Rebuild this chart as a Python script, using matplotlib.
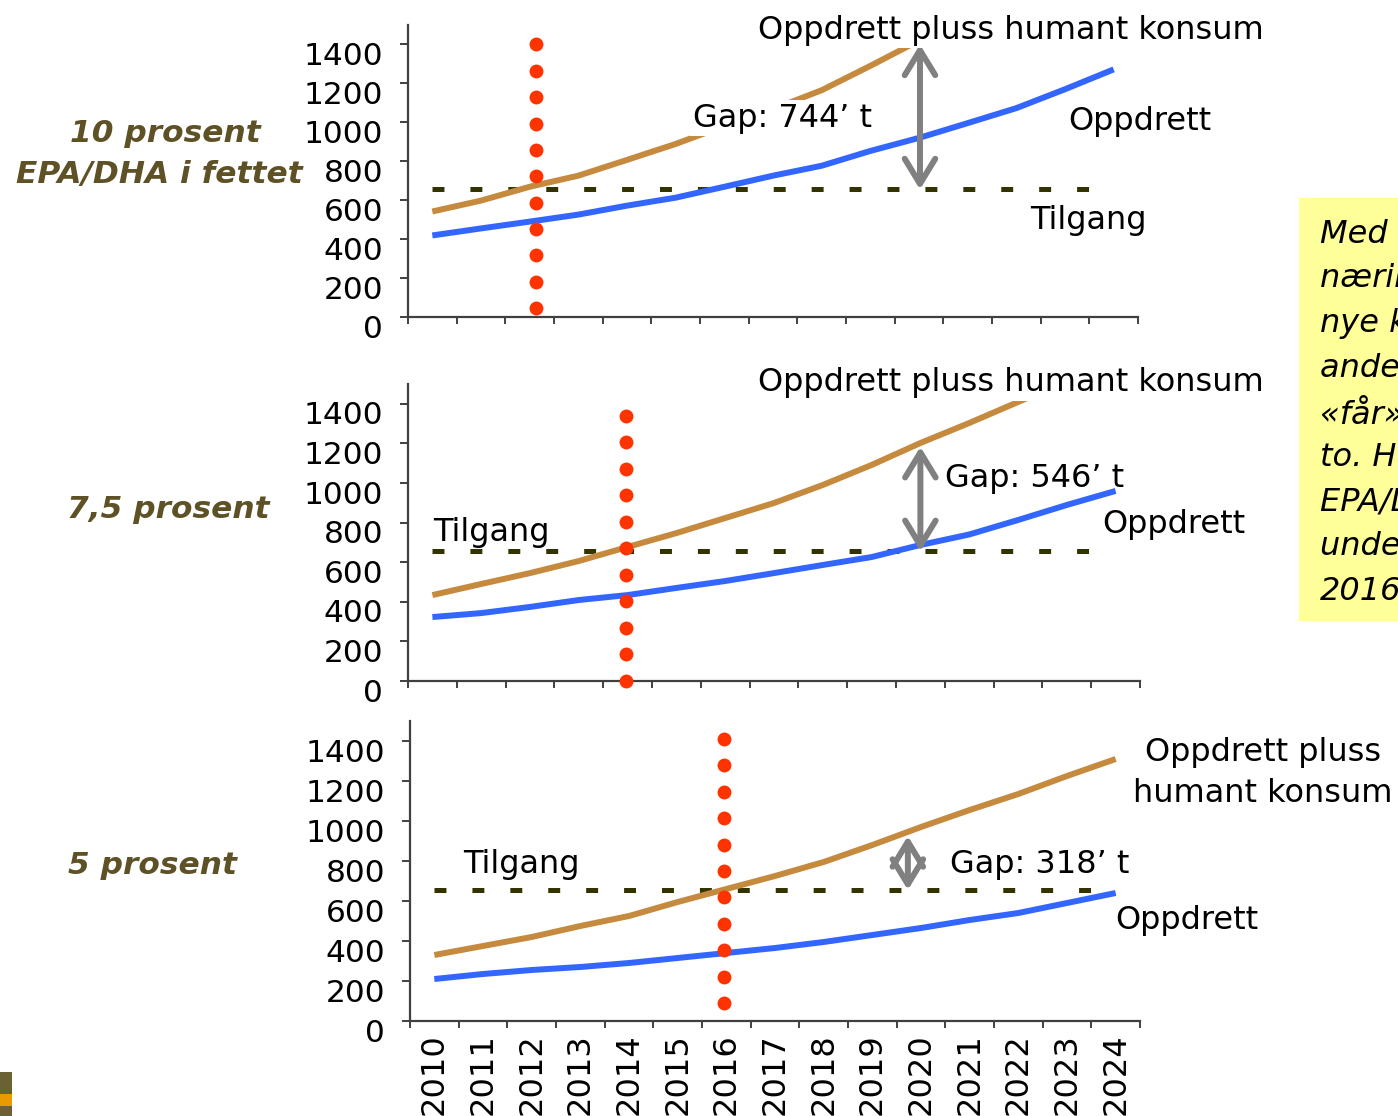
import numpy as np
import matplotlib
matplotlib.use("Agg")
import matplotlib.pyplot as plt
from matplotlib.patches import Rectangle
from matplotlib.transforms import ScaledTranslation

plt.rcParams['font.family'] = ['DejaVu Sans']
plt.rcParams['lines.scale_dashes'] = False

# ---- data (thousand tonnes) ----
years = list(range(2010, 2025))

oppdrett_10 = [419, 455, 490, 526, 572, 613, 669, 726, 777, 853, 920, 996, 1073, 1170, 1272]
pluss_10 = [542, 598, 669, 726, 807, 889, 981, 1068, 1165, 1290, 1420, 1545]

oppdrett_75 = [323, 343, 374, 409, 434, 470, 505, 545, 586, 626, 687, 740, 813, 889, 960]
pluss_75 = [434, 490, 545, 606, 677, 747, 823, 899, 990, 1091, 1202, 1303, 1409, 1515]

oppdrett_5 = [210, 235, 255, 270, 290, 315, 340, 365, 395, 430, 465, 505, 540, 590, 640]
pluss_5 = [330, 375, 420, 475, 525, 595, 660, 725, 795, 880, 970, 1055, 1135, 1225, 1310]

tilgang = [655, 655, 655]
gaps = ["744", "546", "318"]
gap_year = [2020.02, 2020.0, 2019.73]
gap_top = [1400, 1183, 925]

deficit_year = [2012.13, 2013.96, 2015.95]
deficit_lo = [45, 0, 90]
deficit_hi = [1400, 1340, 1410]

yticks = [0, 200, 400, 600, 800, 1000, 1200, 1400]

BLUE = '#3366FF'
ORANGE = '#C68A3E'
RED = '#FF3300'
OLIVE = '#5E5126'
DASH = '#333300'
GREY = '#808080'
AXC = '#404040'

W, H = 1398, 1116
fig = plt.figure(figsize=(W / 100, H / 100), dpi=100)


def fx(x):
    return x / W


def fy(y):
    return 1 - y / H


panels = [
    (408, 25, 1138, 317, oppdrett_10, pluss_10),
    (408, 384, 1140, 681, oppdrett_75, pluss_75),
    (410, 721, 1140, 1021, oppdrett_5, pluss_5),
]

axes = []
for i, (x0, y0, x1, y1, blue, orange) in enumerate(panels):
    ax = fig.add_axes([fx(x0), fy(y1), (x1 - x0) / W, (y1 - y0) / H])
    ax.plot(years[:len(blue)], blue, color=BLUE, lw=4.3, solid_capstyle='butt', zorder=3)
    ax.plot(years[:len(orange)], orange, color=ORANGE, lw=4.3, solid_capstyle='butt', zorder=3)
    ax.plot([years[0], years[-1] - 0.5], [tilgang[i], tilgang[i]], color=DASH, lw=3.6,
            dashes=(8.6, 18.7), zorder=2)
    ax.plot([deficit_year[i]] * 11, np.linspace(deficit_lo[i], deficit_hi[i], 11), 'o',
            color=RED, ms=10, mec='none', clip_on=False, zorder=4)
    ax.annotate('', xy=(gap_year[i], gap_top[i]), xytext=(gap_year[i], tilgang[i]),
                arrowprops=dict(arrowstyle='<->,head_length=0.9,head_width=0.55',
                                color=GREY, lw=4.3, shrinkA=0, shrinkB=0,
                                mutation_scale=20, capstyle='round', joinstyle='round'),
                zorder=5)

    ax.set_xlim(2009.5, 2024.5)
    ax.set_ylim(0, 1500)
    ax.set_yticks(yticks)
    ax.set_yticklabels([str(v) for v in yticks])
    ax.set_xticks(np.arange(2009.5, 2025, 1))
    ax.set_xticklabels([])
    for s in ['top', 'right']:
        ax.spines[s].set_visible(False)
    for s in ['left', 'bottom']:
        ax.spines[s].set_color(AXC)
        ax.spines[s].set_linewidth(1.6)
    ax.tick_params(axis='y', length=6, width=1.4, color=AXC, pad=12, labelsize=22.5)
    ax.tick_params(axis='x', length=5, width=1.4, color=AXC)
    off = ScaledTranslation(0, -0.09, fig.dpi_scale_trans)
    for lab in ax.get_yticklabels():
        lab.set_transform(lab.get_transform() + off)
    axes.append(ax)

# year labels only on the bottom panel
ax = axes[2]
ax.set_xticks(years, minor=True)
ax.set_xticklabels([str(y) for y in years], minor=True, rotation=90, fontsize=23,
                   va='top', ha='center')
ax.tick_params(axis='x', which='minor', length=0, pad=9)

# ---- panel annotations ----
TS = 23
wb = dict(fc='white', ec='none', pad=2)


def t(x, y, s, ha='left', **kw):
    fig.text(fx(x), fy(y + 3), s, ha=ha, va='center', fontsize=TS, zorder=10, **kw)


t(758, 27, 'Oppdrett pluss humant konsum', bbox=wb)
t(693, 115, 'Gap: 744\u2019 t', bbox=wb)
t(1068, 118, 'Oppdrett')
t(1030, 217, 'Tilgang')

t(758, 380, 'Oppdrett pluss humant konsum', bbox=wb)
t(945, 475, 'Gap: 546\u2019 t')
t(1102, 521, 'Oppdrett')
t(433, 530, 'Tilgang')

t(1263, 750, 'Oppdrett pluss', ha='center')
t(1263, 791, 'humant konsum', ha='center')
t(950, 862, 'Gap: 318\u2019 t')
t(1115, 918, 'Oppdrett')
t(463, 862, 'Tilgang')

# ---- left scenario labels ----
lk = dict(fontsize=22.5, fontweight='bold', style='italic', color=OLIVE, va='center', ha='center')
fig.text(fx(165), fy(133), '10 prosent', **lk)
fig.text(fx(159), fy(175), 'EPA/DHA i fettet', **lk)
fig.text(fx(168), fy(509), '7,5 prosent', **lk)
fig.text(fx(152), fy(866), '5 prosent', **lk)

# ---- yellow note box (cut off at the right edge, as in the original) ----
fig.patches.append(Rectangle((fx(1299), fy(621)), (W - 1299) / W, (621 - 198) / H,
                             transform=fig.transFigure, fc='#FFFF99', ec='none', zorder=1))
note = ['Med dagens vekst i', 'næringen og ingen', 'nye kilder vil', 'andelen laks som',
        '«får» omega-3 halveres', 'to. Hvis laksen skal ha', 'EPA/DHA i fettet, blir det',
        'underskudd allerede i', '2016']
for k, line in enumerate(note):
    fig.text(fx(1320), fy(234 + k * 44.7), line, fontsize=TS, style='italic',
             va='center', ha='left', zorder=10)

# ---- logo fragment bottom-left ----
fig.patches.append(Rectangle((0, 0), fx(12), (1116 - 1072) / H, transform=fig.transFigure,
                             fc='#6B6233', ec='none'))
fig.patches.append(Rectangle((0, fy(1106)), fx(12), 12 / H, transform=fig.transFigure,
                             fc='#E89A00', ec='none'))

fig.savefig('out.png', dpi=100)
